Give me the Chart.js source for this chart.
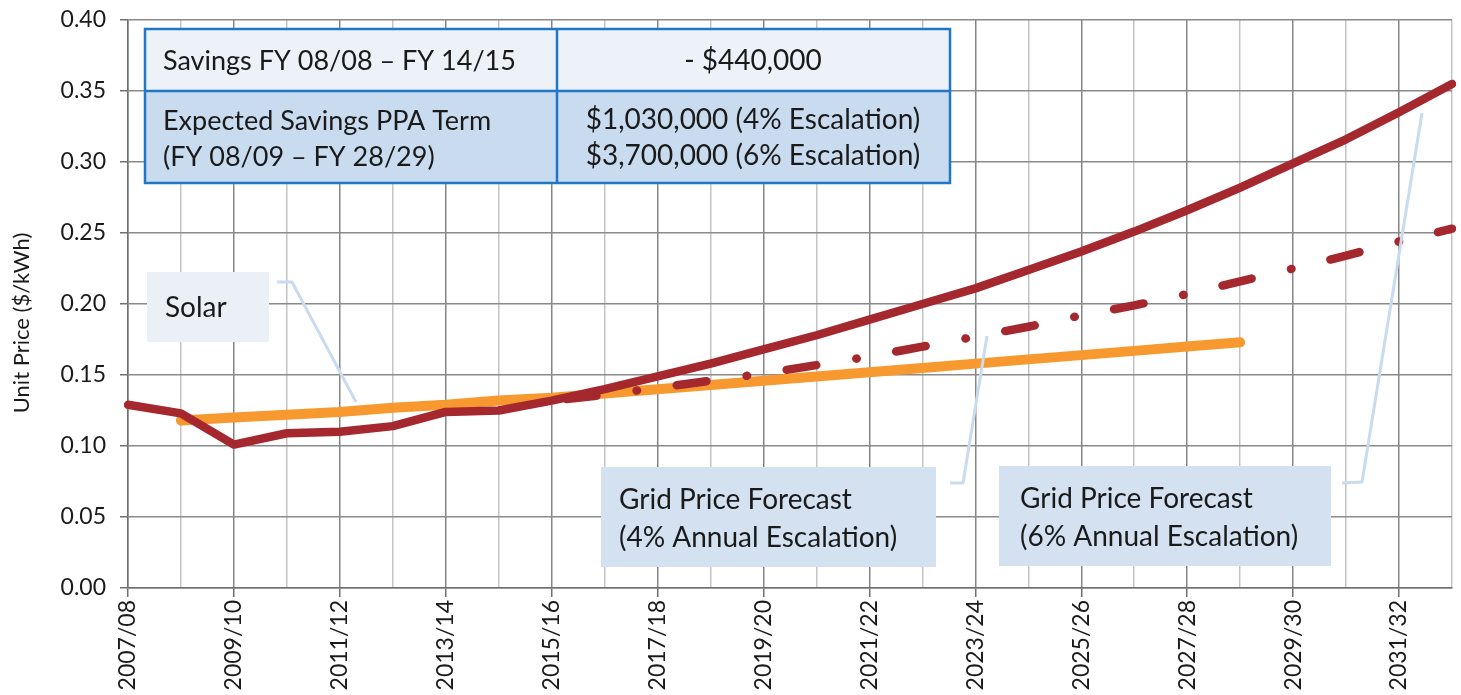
<!DOCTYPE html>
<html>
<head>
<meta charset="utf-8">
<script src="https://cdn.jsdelivr.net/npm/chart.js@4/dist/chart.umd.min.js"></script>
<style>
  body { margin: 0; background: #fff; }
  canvas { display: block; }
</style>
</head>
<body>
<canvas id="priceChart" width="1461" height="695"></canvas>
<script>
let categories = ["2007/08","2008/09","2009/10","2010/11","2011/12","2012/13","2013/14",
                  "2014/15","2015/16","2016/17","2017/18","2018/19","2019/20","2020/21",
                  "2021/22","2022/23","2023/24","2024/25","2025/26","2026/27","2027/28",
                  "2028/29","2029/30","2030/31","2031/32","2032/33"];

// actual grid price, then 6% escalation forecast
let gridPrice6 = [0.129, 0.123, 0.101, 0.109, 0.110, 0.114, 0.124, 0.125, 0.132, 0.140,
                  0.149, 0.158, 0.168, 0.178, 0.189, 0.200, 0.211, 0.224, 0.237, 0.251,
                  0.266, 0.282, 0.299, 0.316, 0.335, 0.355];

// 4% escalation forecast from 2015/16
let gridPrice4 = [null, null, null, null, null, null, null, null, 0.132, 0.136,
                  0.141, 0.146, 0.151, 0.157, 0.163, 0.170, 0.177, 0.184, 0.192, 0.199,
                  0.207, 0.216, 0.225, 0.234, 0.244, 0.253];

let solarPrice = [null, 0.118, 0.120, 0.122, 0.124, 0.127, 0.129, 0.132, 0.134, 0.137,
                  0.140, 0.143, 0.146, 0.149, 0.152, 0.155, 0.158, 0.161, 0.164, 0.167,
                  0.170, 0.173, null, null, null, null];

let yTicks = [0, 0.05, 0.10, 0.15, 0.20, 0.25, 0.30, 0.35, 0.40];

let FONT = "Lato, 'Open Sans', sans-serif";
let RED = "#a4282e";
let ORANGE = "#f8992f";

function box(ctx, x, y, w, h, fill) {
    ctx.fillStyle = fill;
    ctx.fillRect(x, y, w, h);
}

function leader(ctx, pts) {
    ctx.save();
    ctx.strokeStyle = "#c9dbef";
    ctx.lineWidth = 3;
    ctx.lineJoin = "round";
    ctx.beginPath();
    ctx.moveTo(pts[0][0], pts[0][1]);
    for (let i = 1; i < pts.length; i++) ctx.lineTo(pts[i][0], pts[i][1]);
    ctx.stroke();
    ctx.restore();
}

let notes = {
    id: "notes",
    afterDraw(chart) {
        let ctx = chart.ctx;
        ctx.save();

        // savings table
        box(ctx, 145, 29, 805, 62, "#edf2f9");
        box(ctx, 145, 91, 805, 92, "#c9dbef");
        ctx.strokeStyle = "#1f77c6";
        ctx.lineWidth = 2.5;
        ctx.strokeRect(145, 29, 805, 154);
        ctx.beginPath();
        ctx.moveTo(145, 91); ctx.lineTo(950, 91);
        ctx.moveTo(557, 29); ctx.lineTo(557, 183);
        ctx.stroke();

        ctx.fillStyle = "#1a1a1a";
        ctx.font = "27px " + FONT;
        ctx.textBaseline = "middle";
        ctx.textAlign = "left";
        ctx.fillText("Savings FY 08/08 \u2013 FY 14/15", 163, 61);
        ctx.fillText("Expected Savings PPA Term", 163, 121);
        ctx.fillText("(FY 08/09 \u2013 FY 28/29)", 163, 157);
        ctx.textAlign = "center";
        ctx.font = "28px " + FONT;
        ctx.fillText("- $440,000", 753, 61);
        ctx.fillText("$1,030,000 (4% Escalation)", 753, 120);
        ctx.fillText("$3,700,000 (6% Escalation)", 753, 156);

        // callouts
        leader(ctx, [[277, 282], [292, 282], [356, 402]]);
        leader(ctx, [[950, 483], [963, 483], [987, 336]]);
        leader(ctx, [[1342, 483], [1362, 482], [1422, 113]]);

        box(ctx, 147, 272, 122, 70, "#ebf0f7");
        box(ctx, 601, 467, 335, 100, "#d3e1f0");
        box(ctx, 999, 466, 332, 100, "#d3e1f0");

        ctx.fillStyle = "#1a1a1a";
        ctx.textAlign = "left";
        ctx.font = "28px " + FONT;
        ctx.fillText("Solar", 165, 308);
        ctx.fillText("Grid Price Forecast", 619, 500);
        ctx.fillText("(4% Annual Escalation)", 619, 538);
        ctx.fillText("Grid Price Forecast", 1020, 499);
        ctx.fillText("(6% Annual Escalation)", 1020, 537);

        // y axis title
        ctx.translate(22, 323);
        ctx.rotate(-Math.PI / 2);
        ctx.textAlign = "center";
        ctx.font = "22px " + FONT;
        ctx.fillText("Unit Price ($/kWh)", 0, 0);
        ctx.restore();
    }
};

new Chart(document.getElementById("priceChart"), {
    type: "line",
    data: {
        labels: categories,
        datasets: [{
            label: "Grid Price (6%)",
            data: gridPrice6,
            borderColor: RED,
            borderWidth: 8.5,
            borderCapStyle: "round",
            borderJoinStyle: "round",
            pointRadius: 0,
            tension: 0
        }, {
            label: "Grid Price (4%)",
            data: gridPrice4,
            borderColor: RED,
            borderWidth: 8.5,
            borderCapStyle: "round",
            borderJoinStyle: "round",
            borderDash: [30, 40.5, 0.5, 40],
            borderDashOffset: -15,
            pointRadius: 0,
            tension: 0
        }, {
            label: "Solar",
            data: solarPrice,
            borderColor: ORANGE,
            borderWidth: 10,
            borderCapStyle: "round",
            pointRadius: 0
        }]
    },
    options: {
        responsive: false,
        animation: false,
        devicePixelRatio: 1,
        layout: { padding: { top: 20, right: 9, left: 0, bottom: 0 } },
        plugins: {
            legend: { display: false },
            tooltip: { enabled: false }
        },
        scales: {
            x: {
                offset: false,
                grid: {
                    color: c => c.index % 2 ? "#c4c4c4" : "#858585",
                    lineWidth: 1.5,
                    tickLength: 9,
                    tickColor: c => c.index % 2 ? "rgba(0,0,0,0)" : "#707070"
                },
                border: { color: "#707070", width: 1.5 },
                ticks: {
                    autoSkip: false,
                    maxRotation: 90,
                    minRotation: 90,
                    padding: 3,
                    color: "#1a1a1a",
                    font: { family: FONT, size: 23 },
                    callback: (v, i) => i % 2 ? "" : categories[i]
                },
                afterFit(s) {
                    s.height = 107;
                    s.paddingLeft = 0;
                    s.paddingRight = 0;
                }
            },
            y: {
                min: 0,
                max: 0.4,
                grid: { color: "#8a8a8a", lineWidth: 1.5, tickLength: 8, tickColor: "#707070" },
                border: { color: "#707070", width: 1.5 },
                afterBuildTicks(s) {
                    s.ticks = yTicks.map(v => ({ value: v }));
                },
                ticks: {
                    padding: 14,
                    color: "#1a1a1a",
                    font: { family: FONT, size: 23 },
                    callback: v => v.toFixed(2)
                },
                afterFit(s) {
                    s.width = 128;
                    s.paddingTop = 0;
                    s.paddingBottom = 0;
                }
            }
        }
    },
    plugins: [notes]
});
</script>
</body>
</html>
